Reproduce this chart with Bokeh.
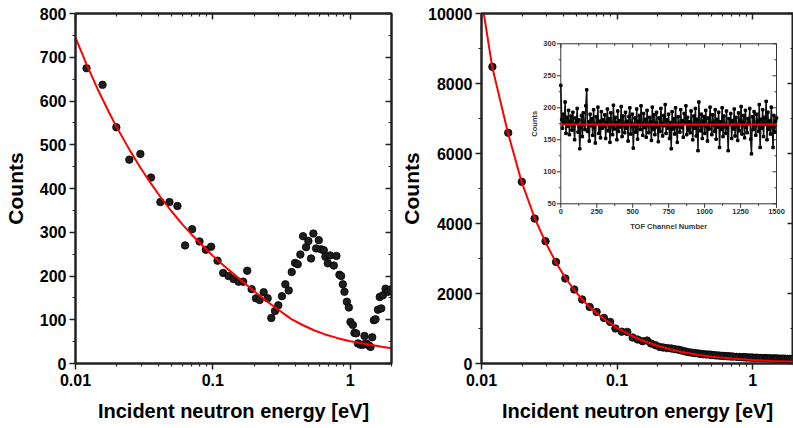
import math
from bokeh.plotting import figure
from bokeh.models import (Range1d, LinearAxis, LogAxis, FixedTicker, LinearScale,
                          NumeralTickFormatter)
from bokeh.layouts import row
from bokeh.embed import file_html
from bokeh.resources import INLINE
from bokeh.core.properties import value

FONT = "Liberation Sans"
AXC = "#222222"

# ---------------- data ----------------
energy_ev = [0.01203, 0.01574, 0.01983, 0.02466, 0.02967, 0.03545, 0.04152, 0.0483, 0.05525, 0.06279,
             0.07063, 0.07998, 0.0889, 0.09719, 0.1082, 0.1189, 0.1302, 0.1416, 0.154, 0.1664,
             0.178, 0.1917, 0.2061, 0.2193, 0.2345, 0.2507, 0.2665, 0.2836, 0.2997, 0.3189,
             0.3372, 0.357, 0.3754, 0.3968, 0.4152, 0.4338, 0.4539, 0.4774, 0.4962, 0.5192,
             0.5397, 0.5647, 0.5909, 0.6142, 0.6427, 0.6603, 0.6875, 0.7145, 0.7603, 0.7943,
             0.8354, 0.8596, 0.8845, 0.9087, 0.9461, 0.9784, 1.0051, 1.0464, 1.075, 1.1061,
             1.1382, 1.1891, 1.238, 1.2718, 1.3087, 1.3604, 1.407, 1.4477, 1.4894, 1.5301,
             1.593, 1.642, 1.684, 1.7327, 1.81, 1.8845, 1.9688]

counts_left = [675, 637, 540, 466, 479, 425, 369, 369, 360, 270,
               307, 279, 260, 267, 235, 207, 200, 193, 187, 187,
               212, 170, 149, 145, 163, 149, 104, 120, 133, 154,
               181, 167, 209, 230, 227, 249, 291, 266, 280, 240,
               297, 263, 282, 261, 259, 244, 229, 247, 224, 246,
               203, 200, 181, 164, 141, 128, 95, 88, 70, 69,
               46, 43, 43, 63, 46, 42, 38, 60, 99, 101,
               123, 152, 126, 156, 171, 164, 169]

counts_right = [8476, 6590, 5190, 4140, 3494, 2903, 2428, 2114, 1829, 1617,
                1474, 1303, 1189, 1000, 910, 903, 743, 686, 637, 655,
                571, 523, 474, 455, 440, 430, 410, 395, 370, 345,
                325, 310, 298, 286, 275, 266, 260, 255, 246, 238,
                232, 226, 220, 214, 210, 207, 202, 197, 190, 186,
                182, 179, 176, 174, 172, 170, 167, 164, 162, 160,
                157, 154, 151, 149, 148, 146, 144, 143, 142, 141,
                139, 138, 137, 135, 133, 131, 130]

fit_left_energy = [0.01, 0.012, 0.0145, 0.0175, 0.0198, 0.025, 0.0298, 0.0355, 0.0417, 0.05,
                   0.06, 0.07, 0.085, 0.1, 0.121, 0.15, 0.18, 0.212, 0.25, 0.3,
                   0.371, 0.45, 0.55, 0.65, 0.8, 1.0, 1.14, 1.4, 1.7, 2.0]
fit_left_counts = [745, 685, 627, 575, 542, 486, 447, 411, 380, 348,
                   318, 295, 268, 246, 223, 198, 177, 159, 141, 123,
                   102, 88, 75.5, 67, 58.5, 51, 48, 43, 38.5, 35]

fit_right_energy = [0.0104, 0.012, 0.0157, 0.0198, 0.0247, 0.0297, 0.0355, 0.0415, 0.0483, 0.0553,
                    0.0628, 0.0706, 0.08, 0.089, 0.1, 0.12, 0.15, 0.2, 0.25, 0.3,
                    0.4, 0.5, 0.7, 1.0, 1.4, 2.0]
fit_right_counts = [10000, 8470, 6580, 5180, 4150, 3460, 2880, 2450, 2100, 1830,
                    1610, 1440, 1280, 1150, 1020, 850, 670, 500, 400, 330,
                    245, 195, 140, 100, 72, 52]

x_major = [0.01, 0.1, 1]
x_minor = [0.02, 0.03, 0.04, 0.05, 0.06, 0.07, 0.08, 0.09,
           0.2, 0.3, 0.4, 0.5, 0.6, 0.7, 0.8, 0.9, 2]
y_ticks_left = [0, 100, 200, 300, 400, 500, 600, 700, 800]
y_minor_left = [50, 150, 250, 350, 450, 550, 650, 750]
y_ticks_right = [0, 2000, 4000, 6000, 8000, 10000]
y_minor_right = [1000, 3000, 5000, 7000, 9000]

# inset: TOF spectrum (one value read every 6 channels)
tof_step = 6
tof_counts = [
    235, 182, 168, 190, 176, 209, 160, 185, 171, 196, 158, 179, 187, 165, 193, 172, 150, 184, 176, 199, 162, 181, 136, 170, 188,
    155, 192, 174, 166, 203, 228, 163, 178, 148, 190, 172, 183, 157, 197, 169, 145, 186, 175, 201, 160, 179, 153, 194, 168, 181,
    171, 189, 152, 177, 198, 164, 183, 146, 192, 173, 158, 204, 167, 185, 176, 150, 195, 163, 180, 170, 202, 155, 187, 174, 161,
    193, 168, 179, 148, 186, 200, 159, 175, 190, 137, 172, 184, 162, 198, 151, 178, 188, 166, 203, 174, 157, 191, 169, 182, 154,
    196, 173, 161, 185, 178, 149, 201, 166, 189, 158, 176, 193, 170, 147, 184, 163, 199, 175, 156, 188, 172, 205, 160, 181, 168,
    190, 152, 177, 136, 194, 167, 183, 159, 200, 171, 146, 186, 175, 162, 197, 169, 180, 154, 191, 176, 203, 158, 185, 165, 178,
    161, 195, 173, 150, 187, 168, 199, 156, 182, 133, 209, 174, 164, 190, 152, 179, 186, 160, 196, 171, 148, 184, 167, 201, 175,
    158, 189, 176, 163, 197, 151, 182, 170, 193, 138, 178, 166, 200, 155, 187, 172, 160, 195, 169, 133, 183, 174, 191, 152, 180,
    167, 198, 156, 185, 173, 149, 192, 164, 180, 202, 159, 176, 188, 153, 196, 170, 161, 183, 175, 199, 151, 128, 186, 166, 194,
    172, 157, 190, 178, 163, 205, 138, 182, 168, 197, 155, 185, 174, 210, 150, 193, 166, 180, 159, 201, 171, 138, 188, 162, 179,
    184]
tof_channels = [i * tof_step for i in range(len(tof_counts))]
tof_fit_level = 174
inset_x_limits = [0, 1500]
inset_y_limits = [50, 300]
inset_x_ticks = [0, 250, 500, 750, 1000, 1250, 1500]
inset_x_labels = ["0", "250", "500", "750", "1000", "1250", "1500"]
inset_x_minor = [125, 375, 625, 875, 1125, 1375]
inset_y_ticks = [50, 100, 150, 200, 250, 300]
inset_y_labels = ["50", "100", "150", "200", "250", "300"]
inset_y_minor = [75, 125, 175, 225, 275]


# ---------------- helpers ----------------
def style_axis(ax, inward=False):
    ax.axis_line_width = 2
    ax.axis_line_color = AXC
    ax.major_tick_line_color = AXC
    ax.minor_tick_line_color = AXC
    ax.major_tick_line_width = 1.5
    ax.minor_tick_line_width = 1.2
    ax.major_label_text_font = FONT
    ax.major_label_text_font_style = "bold"
    ax.major_label_text_font_size = "16px"
    ax.major_label_text_color = "#000000"
    ax.axis_label_text_font = FONT
    ax.axis_label_text_font_style = "bold"
    ax.axis_label_text_color = "#000000"
    if inward:
        ax.major_tick_in = 6
        ax.major_tick_out = 0
        ax.minor_tick_in = 3
        ax.minor_tick_out = 0
        ax.major_label_text_font_size = "1px"
        ax.major_label_text_alpha = 0
        ax.major_label_standoff = 0
    else:
        ax.major_tick_in = 0
        ax.major_tick_out = 6
        ax.minor_tick_in = 0
        ax.minor_tick_out = 3
        ax.major_label_standoff = 3


def panel(width, border_left, border_right, ymax, yt, ym, counts, fe, fc, ylabel_standoff):
    p = figure(width=width, height=428, x_axis_type="log",
               x_range=Range1d(0.01, 2), y_range=Range1d(0, ymax),
               output_backend="svg", toolbar_location=None,
               min_border_left=border_left, min_border_right=border_right,
               min_border_top=13, min_border_bottom=65,
               background_fill_color="white", border_fill_color="white")
    p.grid.visible = False
    p.outline_line_color = AXC
    p.outline_line_width = 2
    xt = FixedTicker(ticks=x_major, minor_ticks=x_minor)
    ytk = FixedTicker(ticks=yt, minor_ticks=ym)
    p.xaxis.ticker = xt
    p.xaxis.formatter = NumeralTickFormatter(format="0.[00]")
    p.yaxis.ticker = ytk
    style_axis(p.xaxis[0])
    style_axis(p.yaxis[0])
    p.xaxis.axis_label = "Incident neutron energy [eV]"
    p.xaxis.axis_label_text_font_size = "20px"
    p.xaxis.axis_label_standoff = 11
    p.xaxis.major_label_standoff = 4
    p.yaxis.axis_label = "Counts"
    p.yaxis.axis_label_text_font_size = "21px"
    p.yaxis.axis_label_standoff = ylabel_standoff
    top = LogAxis(ticker=xt)
    style_axis(top, inward=True)
    p.add_layout(top, "above")
    right = LinearAxis(ticker=ytk)
    style_axis(right, inward=True)
    p.add_layout(right, "right")
    p.scatter(energy_ev, counts, size=7.5, fill_color="#1e1e1e", line_color="#000000", line_width=0.8)
    p.line(fe, fc, line_color="#ff0000", line_width=2)
    return p


left = panel(397, 75, 6, 800, y_ticks_left, y_minor_left, counts_left,
             fit_left_energy, fit_left_counts, 10)
right = panel(396, 84, 0, 10000, y_ticks_right, y_minor_right, counts_right,
              fit_right_energy, fit_right_counts, 2)

# ---------------- inset inside the right panel ----------------
right.extra_x_ranges = {"tof": Range1d(-551.5, 1618.2)}
right.extra_y_ranges = {"tofc": Range1d(-199.5, 347.3)}
right.extra_x_scales = {"tof": LinearScale()}
right.extra_y_scales = {"tofc": LinearScale()}
kw = dict(x_range_name="tof", y_range_name="tofc")

right.quad(left=[inset_x_limits[0]], right=[inset_x_limits[1]],
           bottom=[inset_y_limits[0]], top=[inset_y_limits[1]],
           fill_color="white", line_color="#333333", line_width=1, **kw)

x0, x1 = inset_x_limits
y0, y1 = inset_y_limits
tick_kw = dict(line_color="#333333", line_width=1, length_units="screen", **kw)
# bottom (out) and top (in)
right.ray(x=inset_x_ticks, y=[y0] * len(inset_x_ticks), length=4, angle=-math.pi / 2, **tick_kw)
right.ray(x=inset_x_minor, y=[y0] * len(inset_x_minor), length=2, angle=-math.pi / 2, **tick_kw)
right.ray(x=inset_x_ticks, y=[y1] * len(inset_x_ticks), length=4, angle=-math.pi / 2, **tick_kw)
right.ray(x=inset_x_minor, y=[y1] * len(inset_x_minor), length=2, angle=-math.pi / 2, **tick_kw)
# left (out) and right (in)
right.ray(x=[x0] * len(inset_y_ticks), y=inset_y_ticks, length=4, angle=math.pi, **tick_kw)
right.ray(x=[x0] * len(inset_y_minor), y=inset_y_minor, length=2, angle=math.pi, **tick_kw)
right.ray(x=[x1] * len(inset_y_ticks), y=inset_y_ticks, length=4, angle=math.pi, **tick_kw)
right.ray(x=[x1] * len(inset_y_minor), y=inset_y_minor, length=2, angle=math.pi, **tick_kw)

txt = dict(text_font=value(FONT), text_font_style="bold", text_color="#333333", **kw)
right.text(x=inset_x_ticks, y=[y0] * len(inset_x_ticks), text=inset_x_labels,
           text_align="center", text_baseline="top", y_offset=5, text_font_size="7.5px", **txt)
right.text(x=[x0] * len(inset_y_ticks), y=inset_y_ticks, text=inset_y_labels,
           text_align="right", text_baseline="middle", x_offset=-5, text_font_size="7.5px", **txt)
right.text(x=[(x0 + x1) / 2], y=[y0], text=["TOF Channel Number"],
           text_align="center", text_baseline="middle", y_offset=23, text_font_size="7.5px", **txt)
right.text(x=[x0], y=[(y0 + y1) / 2], text=["Counts"], angle=math.pi / 2,
           text_align="center", text_baseline="middle", x_offset=-26, text_font_size="7.5px", **txt)

right.line(tof_channels, tof_counts, line_color="#111111", line_width=1.5, **kw)
right.scatter(tof_channels, tof_counts, marker="square", size=2.5, fill_color="#000000",
              line_color="#000000", **kw)
right.line(inset_x_limits, [tof_fit_level, tof_fit_level], line_color="#ff0000", line_width=2, **kw)

layout = row(left, right)
open("out.html", "w").write(file_html(layout, INLINE))
